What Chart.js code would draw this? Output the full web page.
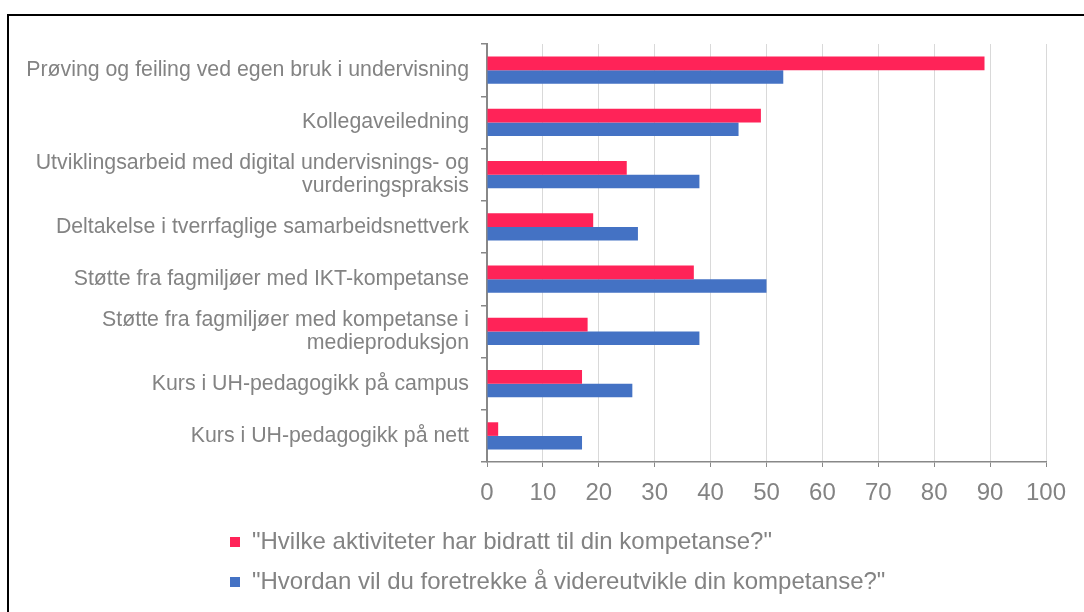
<!DOCTYPE html>
<html>
<head>
<meta charset="utf-8">
<script src="https://cdn.jsdelivr.net/npm/chart.js@4/dist/chart.umd.min.js"></script>
<style>
  html, body { margin: 0; padding: 0; background: #fff; overflow: hidden; }
  #frame { position: absolute; left: 7px; top: 14px; width: 1100px; height: 620px; border: 2px solid #000; box-sizing: border-box; }
  #c { position: absolute; left: 0; top: 0; }
</style>
</head>
<body>
<div id="frame"></div>
<canvas id="c" width="1084" height="612"></canvas>
<script>
const categories = [
  "Prøving og feiling ved egen bruk i undervisning",
  "Kollegaveiledning",
  ["Utviklingsarbeid med digital undervisnings- og", "vurderingspraksis"],
  "Deltakelse i tverrfaglige samarbeidsnettverk",
  "Støtte fra fagmiljøer med IKT-kompetanse",
  ["Støtte fra fagmiljøer med kompetanse i", "medieproduksjon"],
  "Kurs i UH-pedagogikk på campus",
  "Kurs i UH-pedagogikk på nett"
];
const seriesNames = [
  "\"Hvilke aktiviteter har bidratt til din kompetanse?\"",
  "\"Hvordan vil du foretrekke å videreutvikle din kompetanse?\""
];
const contributed = [89, 49, 25, 19, 37, 18, 17, 2];
const preferred = [53, 45, 38, 27, 50, 38, 26, 17];
const xTicks = [0, 10, 20, 30, 40, 50, 60, 70, 80, 90, 100];

const TEXT = '#838383';
const FONT = "'Liberation Sans', Arial, sans-serif";

const legendShift = {
  id: 'legendShift',
  afterUpdate(chart) {
    const lg = chart.legend;
    if (lg) { lg.left = 214; }
  }
};

new Chart(document.getElementById('c'), {
  type: 'bar',
  data: {
    labels: categories,
    datasets: [
      { label: seriesNames[0], data: contributed, backgroundColor: '#FF2358', borderWidth: 0 },
      { label: seriesNames[1], data: preferred, backgroundColor: '#4472C4', borderWidth: 0 }
    ]
  },
  options: {
    indexAxis: 'y',
    responsive: false,
    animation: false,
    devicePixelRatio: 1,
    categoryPercentage: 0.52,
    barPercentage: 1.0,
    layout: { padding: { left: 0, right: 38, top: 44, bottom: 8 } },
    scales: {
      x: {
        min: 0, max: 100,
        afterBuildTicks(scale) { scale.ticks = xTicks.map(v => ({ value: v })); },
        afterFit(scale) { scale.height = 52; },
        grid: { color: '#d9d9d9', lineWidth: 1, tickColor: '#888', tickLength: 5 },
        border: { color: '#888', width: 1.5 },
        ticks: { color: TEXT, font: { family: FONT, size: 24 }, padding: 12, maxRotation: 0 }
      },
      y: {
        afterFit(scale) { scale.width = 487; },
        grid: { drawOnChartArea: false, tickColor: '#888', tickLength: 6, lineWidth: 1.5 },
        border: { color: '#888', width: 2 },
        ticks: { color: TEXT, font: { family: FONT, size: 21.3, lineHeight: 1.08 }, padding: 12, autoSkip: false }
      }
    },
    plugins: {
      legend: {
        position: 'bottom',
        align: 'start',
        labels: {
          color: TEXT,
          font: { family: FONT, size: 24 },
          boxWidth: 10, boxHeight: 10,
          padding: 16
        }
      },
      tooltip: { enabled: false }
    }
  },
  plugins: [legendShift]
});
</script>
</body>
</html>
